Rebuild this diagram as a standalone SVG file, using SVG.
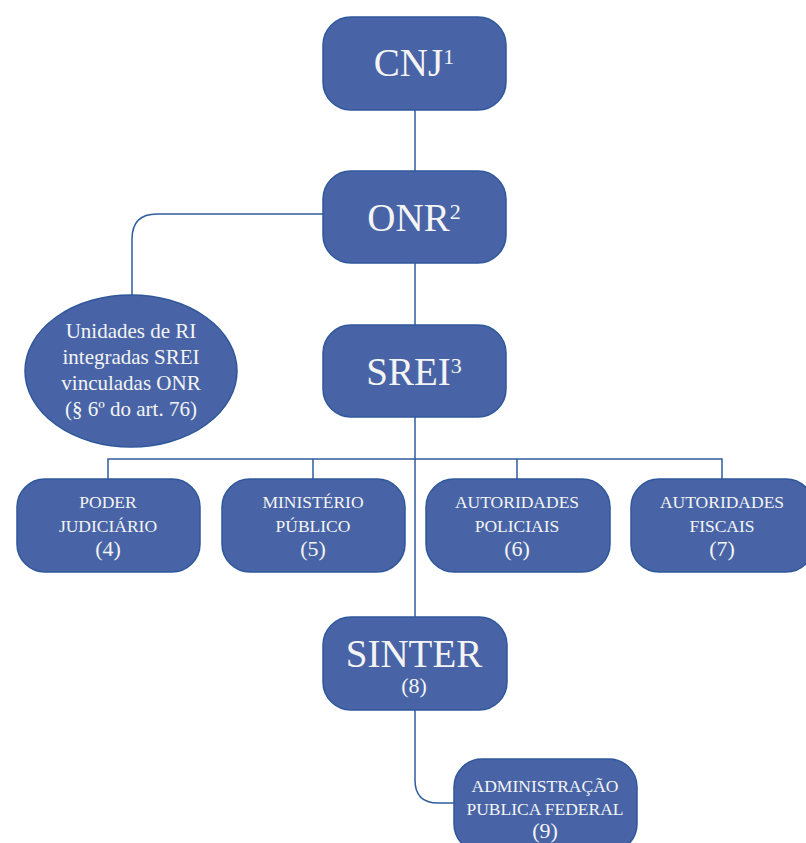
<svg xmlns="http://www.w3.org/2000/svg" width="806" height="843" viewBox="0 0 806 843">
<style>
.box{fill:#4864a6;stroke:#2f579b;stroke-width:1.5}
.ln{fill:none;stroke:#2f5d9e;stroke-width:1.5}
text{font-family:"Liberation Serif","Times New Roman",serif;fill:#f4f4f4;text-anchor:middle}
.big{font-size:39px}
.sup{font-size:22px}
.sm{font-size:17.5px}
.num{font-size:22px}
.el{font-size:21px}
</style>
<rect width="806" height="843" fill="#ffffff"/>
<g id="connectors">
<path class="ln" d="M415 110 V171"/>
<path class="ln" d="M415 263 V325"/>
<path class="ln" d="M323 214 H157 Q132 214 132 239 V296"/>
<path class="ln" d="M415 417 V618"/>
<path class="ln" d="M108 479 V459 H722 V479"/>
<path class="ln" d="M313 459 V479"/>
<path class="ln" d="M517 459 V479"/>
<path class="ln" d="M415 710 V780 Q415 803 438 803 H454"/>
</g>
<g id="cnj">
<rect class="box" x="323" y="17" width="183" height="93" rx="28"/>
<text class="big" x="414" y="76">CNJ<tspan class="sup" dy="-12">1</tspan></text>
</g>
<g id="onr">
<rect class="box" x="323" y="171" width="183" height="92" rx="28"/>
<text class="big" x="414" y="231">ONR<tspan class="sup" dy="-12">2</tspan></text>
</g>
<g id="srei">
<rect class="box" x="323" y="325" width="183" height="92" rx="28"/>
<text class="big" x="414" y="385">SREI<tspan class="sup" dy="-12">3</tspan></text>
</g>
<g id="unidades">
<ellipse class="box" cx="131" cy="371" rx="106" ry="76"/>
<text class="el" x="131" y="338">Unidades de RI</text>
<text class="el" x="131" y="364">integradas SREI</text>
<text class="el" x="131" y="390">vinculadas ONR</text>
<text class="el" x="131" y="416">(§ 6º do art. 76)</text>
</g>
<g id="poder">
<rect class="box" x="17" y="479" width="183" height="93" rx="28"/>
<text class="sm" x="108" y="508">PODER</text>
<text class="sm" x="108" y="532">JUDICIÁRIO</text>
<text class="num" x="108" y="556">(4)</text>
</g>
<g id="ministerio">
<rect class="box" x="222" y="479" width="183" height="93" rx="28"/>
<text class="sm" x="313" y="508">MINISTÉRIO</text>
<text class="sm" x="313" y="532">PÚBLICO</text>
<text class="num" x="313" y="556">(5)</text>
</g>
<g id="policiais">
<rect class="box" x="426" y="479" width="184" height="93" rx="28"/>
<text class="sm" x="517" y="508">AUTORIDADES</text>
<text class="sm" x="517" y="532">POLICIAIS</text>
<text class="num" x="517" y="556">(6)</text>
</g>
<g id="fiscais">
<rect class="box" x="631" y="479" width="183" height="93" rx="28"/>
<text class="sm" x="722" y="508">AUTORIDADES</text>
<text class="sm" x="722" y="532">FISCAIS</text>
<text class="num" x="722" y="556">(7)</text>
</g>
<g id="sinter">
<rect class="box" x="323" y="617" width="184" height="93" rx="28"/>
<text class="big" x="414" y="667">SINTER</text>
<text class="num" x="414" y="693">(8)</text>
</g>
<g id="admin">
<rect class="box" x="454" y="759" width="183" height="93" rx="28"/>
<text class="sm" x="545" y="792">ADMINISTRAÇÃO</text>
<text class="sm" x="545" y="815">PUBLICA FEDERAL</text>
<text class="num" x="545" y="838">(9)</text>
</g>
</svg>
